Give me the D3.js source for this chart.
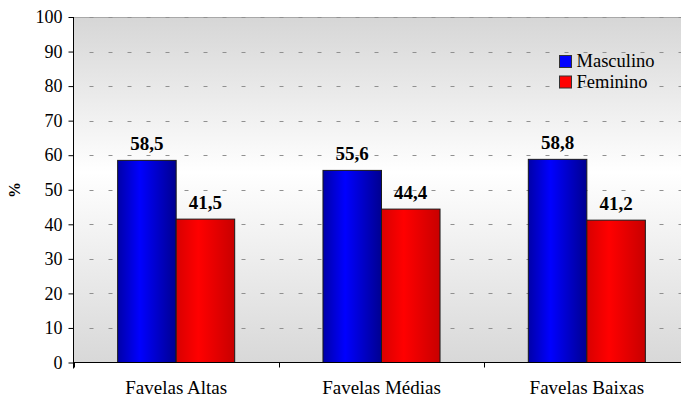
<!DOCTYPE html>
<html>
<head>
<meta charset="utf-8">
<script src="https://cdn.jsdelivr.net/npm/d3@7"></script>
<style>
  body { margin: 0; background: #fff; }
</style>
</head>
<body>
<svg width="681" height="398"></svg>
<script>
const categories = ['Favelas Altas', 'Favelas Médias', 'Favelas Baixas'];
const seriesNames = ['Masculino', 'Feminino'];
const masculino = [58.5, 55.6, 58.8];
const feminino = [41.5, 44.4, 41.2];
const yTicks = [0, 10, 20, 30, 40, 50, 60, 70, 80, 90, 100];

const FONT = "'Liberation Serif', 'DejaVu Serif', serif";

const svg = d3.select('svg');
const plotLeft = 73.5, plotRight = 689.5, plotTop = 17, plotBottom = 362.5;

const x0 = d3.scaleBand().domain(categories).range([plotLeft, plotRight])
  .paddingInner(0.43).paddingOuter(0.215);
const x1 = d3.scaleBand().domain(seriesNames).range([0, x0.bandwidth()]);
const y = d3.scaleLinear().domain([0, 100]).range([plotBottom, plotTop]);

const defs = svg.append('defs');

// plot background: gray at top and bottom, white around the middle
const bg = defs.append('linearGradient').attr('id', 'bg')
  .attr('x1', 0).attr('y1', 0).attr('x2', 0).attr('y2', 1);
bg.append('stop').attr('offset', '0%').attr('stop-color', '#d6d6d6');
bg.append('stop').attr('offset', '45%').attr('stop-color', '#ffffff');
bg.append('stop').attr('offset', '100%').attr('stop-color', '#d8d8d8');

function barGradient(id, edgeL, mid, edgeR) {
  const g = defs.append('linearGradient').attr('id', id)
    .attr('x1', 0).attr('y1', 0).attr('x2', 1).attr('y2', 0);
  g.append('stop').attr('offset', '0%').attr('stop-color', edgeL);
  g.append('stop').attr('offset', '38%').attr('stop-color', mid);
  g.append('stop').attr('offset', '100%').attr('stop-color', edgeR);
}
barGradient('gBlue', '#0000a8', '#0000ff', '#000090');
barGradient('gRed', '#d80000', '#ff0000', '#c80000');

svg.append('rect')
  .attr('x', plotLeft).attr('y', plotTop)
  .attr('width', plotRight - plotLeft).attr('height', plotBottom - plotTop)
  .attr('fill', 'url(#bg)');

// top border of the plot area
svg.append('line')
  .attr('x1', plotLeft).attr('x2', plotRight).attr('y1', plotTop + 0.5).attr('y2', plotTop + 0.5)
  .attr('stroke', '#a8a8a8');

// dashed grid
svg.append('g')
  .selectAll('line')
  .data(yTicks.filter(d => d > 0))
  .join('line')
  .attr('x1', plotLeft + 1).attr('x2', plotRight)
  .attr('y1', d => Math.round(y(d)) + 0.5).attr('y2', d => Math.round(y(d)) + 0.5)
  .attr('stroke', '#909090')
  .attr('stroke-dasharray', '4,15')
  .attr('stroke-dashoffset', -15);

const rows = categories.map((c, i) => ({ cat: c, values: [masculino[i], feminino[i]] }));
const fills = ['url(#gBlue)', 'url(#gRed)'];

const groups = svg.append('g')
  .selectAll('g')
  .data(rows)
  .join('g')
  .attr('transform', d => `translate(${x0(d.cat)},0)`);

groups.selectAll('rect')
  .data(d => d.values.map((v, j) => ({ key: seriesNames[j], v, j })))
  .join('rect')
  .attr('x', d => x1(d.key))
  .attr('y', d => y(d.v))
  .attr('width', x1.bandwidth())
  .attr('height', d => plotBottom - y(d.v))
  .attr('fill', d => fills[d.j])
  .attr('stroke', '#1a1a1a')
  .attr('stroke-width', 1);

groups.selectAll('text')
  .data(d => d.values.map((v, j) => ({ key: seriesNames[j], v, j })))
  .join('text')
  .attr('x', d => x1(d.key) + x1.bandwidth() / 2)
  .attr('y', d => y(d.v) - 10)
  .attr('text-anchor', 'middle')
  .attr('font-family', FONT)
  .attr('font-size', 19)
  .attr('font-weight', 'bold')
  .text(d => d.v.toFixed(1).replace('.', ','));

// y axis
const yAxis = svg.append('g')
  .attr('transform', `translate(${plotLeft},0)`)
  .call(d3.axisLeft(y).tickValues(yTicks).tickSize(5).tickPadding(6))
  .attr('font-family', FONT)
  .attr('font-size', 18);
yAxis.select('.domain').attr('d', `M0,${plotTop}V${plotBottom + 6}`).attr('stroke', '#000');

// x axis with ticks at category boundaries
const boundaries = [plotLeft].concat(categories.map(c => x0(c) + x0.bandwidth() + x0.step() * x0.paddingInner() / 2));
const xg = svg.append('g')
  .attr('font-family', FONT)
  .attr('font-size', 19);
xg.append('line')
  .attr('x1', plotLeft).attr('x2', plotRight).attr('y1', plotBottom).attr('y2', plotBottom)
  .attr('stroke', '#000');
xg.selectAll('.b')
  .data(boundaries)
  .join('line')
  .attr('class', 'b')
  .attr('x1', d => Math.round(d) + 0.5).attr('x2', d => Math.round(d) + 0.5)
  .attr('y1', plotBottom).attr('y2', plotBottom + 5)
  .attr('stroke', '#000');
xg.selectAll('text')
  .data(categories)
  .join('text')
  .attr('x', d => x0(d) + x0.bandwidth() / 2)
  .attr('y', 394)
  .attr('text-anchor', 'middle')
  .text(d => d);

// y title
svg.append('text')
  .attr('transform', 'translate(20,190) rotate(-90)')
  .attr('text-anchor', 'middle')
  .attr('font-family', FONT)
  .attr('font-size', 16)
  .attr('font-weight', 'bold')
  .text('%');

// legend
const legendColors = ['#0000ff', '#ff0000'];
const legend = svg.append('g')
  .attr('font-family', FONT)
  .attr('font-size', 18.5)
  .selectAll('g')
  .data(seriesNames)
  .join('g')
  .attr('transform', (d, i) => `translate(559.5,${55.5 + i * 20.5})`);
legend.append('rect')
  .attr('width', 12).attr('height', 12)
  .attr('fill', (d, i) => legendColors[i])
  .attr('stroke', '#333');
legend.append('text')
  .attr('x', 17).attr('y', 11.5)
  .text(d => d);
</script>
</body>
</html>
